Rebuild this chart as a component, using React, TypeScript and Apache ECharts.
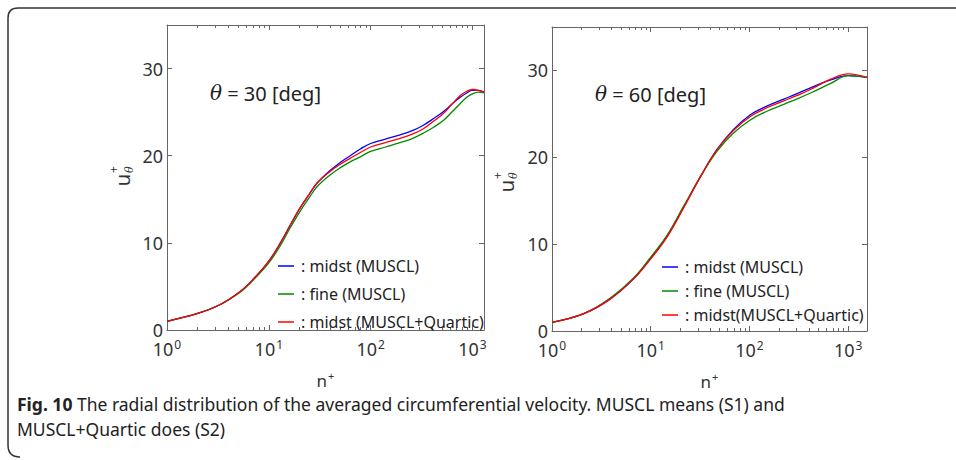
import React, { useEffect, useRef } from "react";
import * as echarts from "echarts";

// ---------- data ----------
const nLeft = [1, 2, 3.3, 5.2, 7, 10, 13, 16, 20, 25, 30, 40, 50, 63, 80, 100, 140, 195, 260, 330, 420, 525, 640, 760, 880, 1000, 1150, 1300];
const blueLeft = [1.0, 1.9, 2.9, 4.4, 5.8, 7.9, 10.0, 11.9, 13.9, 15.6, 16.9, 18.3, 19.2, 20.0, 20.8, 21.4, 21.9, 22.4, 22.9, 23.5, 24.3, 25.1, 26.0, 26.7, 27.2, 27.5, 27.5, 27.3];
const greenLeft = [1.0, 1.9, 2.9, 4.3, 5.7, 7.7, 9.7, 11.6, 13.5, 15.2, 16.5, 17.8, 18.6, 19.3, 19.9, 20.5, 21.0, 21.5, 22.0, 22.6, 23.3, 24.1, 25.1, 26.0, 26.7, 27.1, 27.3, 27.2];
const redLeft = [1.0, 1.9, 2.9, 4.4, 5.8, 7.9, 10.0, 11.9, 13.9, 15.6, 16.9, 18.2, 19.0, 19.7, 20.4, 21.0, 21.5, 22.0, 22.5, 23.1, 24.0, 24.9, 26.0, 26.9, 27.4, 27.6, 27.5, 27.3];

const nRight = [1, 2.1, 3.9, 6.7, 10, 14.6, 21.6, 32, 47, 69, 102, 150, 223, 300, 415, 665, 1000, 1550];
const blueRight = [1.0, 2.0, 3.7, 6.0, 8.4, 10.9, 14.3, 17.8, 20.9, 23.2, 24.9, 25.9, 26.7, 27.3, 28.0, 28.9, 29.4, 29.2];
const greenRight = [1.0, 2.0, 3.8, 6.1, 8.5, 11.0, 14.4, 17.8, 20.7, 22.8, 24.3, 25.3, 26.1, 26.7, 27.4, 28.5, 29.4, 29.2];
const redRight = [1.0, 2.0, 3.7, 6.0, 8.3, 10.8, 14.2, 17.8, 20.9, 23.1, 24.7, 25.7, 26.5, 27.1, 27.8, 29.0, 29.6, 29.2];

const namesLeft = ["midst (MUSCL)", "fine (MUSCL)", "midst (MUSCL+Quartic)"];
const namesRight = ["midst (MUSCL)", "fine (MUSCL)", "midst(MUSCL+Quartic)"];

const xMajorTicks = [1, 10, 100, 1000];
const xMinorTicks = [2, 3, 4, 5, 6, 7, 8, 9, 20, 30, 40, 50, 60, 70, 80, 90, 200, 300, 400, 500, 600, 700, 800, 900];
const yTicks = [0, 10, 20, 30];
const xMaxLeft = 1300;
const xMaxRight = 1550;
const yMax = 35;

const colors = ["#0000ff", "#008a00", "#ff0000"];
const FONT = "Noto Sans";
const AXIS = "#666";
const TXT = "#222";

const framePath = "M 960 8 L 18 8 Q 8 8 8 18 L 8 445 Q 8 457 20 457";
echarts.graphic.registerShape("frameBorder", echarts.graphic.extendPath(framePath, {}));

function xAxes(grid: number, max: number) {
  const lineStyle = { color: AXIS, width: 1 };
  const base = { type: "log", logBase: 10, gridIndex: grid, min: 1, max, splitLine: { show: false } };
  return [
    {
      ...base,
      position: "bottom",
      axisLine: { show: true, lineStyle },
      axisTick: { show: true, inside: true, length: 5, customValues: xMajorTicks, lineStyle },
      axisLabel: {
        customValues: xMajorTicks,
        margin: 8,
        color: "#333",
        fontFamily: FONT,
        formatter: (v: number) => `{b|10}{s|${Math.round(Math.log10(v))}}`,
        rich: {
          b: { fontSize: 18, fontFamily: FONT, color: "#333" },
          s: { fontSize: 12, fontFamily: FONT, color: "#333", padding: [0, 0, 9, 1] },
        },
      },
      name: "{n|n}{s|+}",
      nameLocation: "middle",
      nameGap: 40,
      nameTextStyle: {
        rich: {
          n: { fontSize: 17, fontFamily: FONT, color: "#333" },
          s: { fontSize: 11, fontFamily: FONT, color: "#333", padding: [0, 0, 9, 1] },
        },
      },
    },
    {
      ...base,
      position: "bottom",
      axisLine: { show: false },
      axisTick: { show: true, inside: true, length: 3, customValues: xMinorTicks, lineStyle },
      axisLabel: { show: false },
    },
    {
      ...base,
      position: "top",
      axisLine: { show: true, lineStyle },
      axisTick: { show: true, inside: true, length: 5, customValues: xMajorTicks, lineStyle },
      axisLabel: { show: false },
    },
    {
      ...base,
      position: "top",
      axisLine: { show: false },
      axisTick: { show: true, inside: true, length: 3, customValues: xMinorTicks, lineStyle },
      axisLabel: { show: false },
    },
  ];
}

function yAxes(grid: number) {
  const lineStyle = { color: AXIS, width: 1 };
  const base = { type: "value", gridIndex: grid, min: 0, max: yMax, splitLine: { show: false } };
  return [
    {
      ...base,
      position: "left",
      axisLine: { show: true, lineStyle },
      axisTick: { show: true, inside: true, length: 5, customValues: yTicks, lineStyle },
      axisLabel: { customValues: yTicks, margin: 4, fontSize: 18, lineHeight: 12, fontFamily: FONT, color: "#333" },
    },
    {
      ...base,
      position: "right",
      axisLine: { show: true, lineStyle },
      axisTick: { show: true, inside: true, length: 5, customValues: yTicks, lineStyle },
      axisLabel: { show: false },
    },
  ];
}

function makeSeries(grid: number, n: number[], sets: number[][], names: string[]) {
  return sets.map((vals, i) => ({
    type: "line",
    name: names[i],
    xAxisIndex: grid * 4,
    yAxisIndex: grid * 2,
    data: n.map((x, k) => [x, vals[k]]),
    smooth: 0.4,
    symbol: "none",
    lineStyle: { color: colors[i], width: 1.3 },
    itemStyle: { color: colors[i] },
  }));
}

function yLabel(cx: number, cy: number) {
  return {
    type: "group",
    x: cx,
    y: cy,
    rotation: Math.PI / 2,
    children: [
      { type: "text", x: 0, y: 0, style: { text: "u", fontSize: 20, fontFamily: FONT, fill: "#333", align: "center", verticalAlign: "middle" } },
      { type: "text", x: 7, y: -9, style: { text: "+", fontSize: 12, fontFamily: FONT, fill: "#333", align: "left", verticalAlign: "middle" } },
      { type: "text", x: 7, y: 7, style: { text: "θ", fontSize: 11, fontFamily: "DejaVu Serif", fontStyle: "italic", fill: "#333", align: "left", verticalAlign: "middle" } },
    ],
  };
}

function thetaLabel(x: number, y: number, deg: string) {
  return {
    type: "text",
    x,
    y,
    style: {
      text: `{t|θ} = ${deg} [deg]`,
      fontSize: 20,
      fontFamily: FONT,
      fill: TXT,
      verticalAlign: "middle",
      rich: {
        t: { fontSize: 20, fontFamily: "DejaVu Serif", fontStyle: "italic", fill: TXT },
      },
    },
  };
}

function legend(left: number, top: number, gap: number, names: string[]) {
  return {
    orient: "vertical",
    left,
    top,
    icon: "rect",
    itemWidth: 16,
    itemHeight: 1.5,
    itemGap: gap,
    data: names,
    formatter: (n: string) => ": " + n,
    textStyle: { fontSize: 16, fontFamily: FONT, color: TXT, lineHeight: 16, padding: [0, 0, 0, 2] },
    selectedMode: false,
  };
}

export default function App() {
  const ref = useRef<HTMLDivElement>(null);
  useEffect(() => {
    document.body.style.margin = "0";
    if (!ref.current) return;
    const chart = echarts.init(ref.current, undefined, { renderer: "svg" });
    chart.setOption({
      animation: false,
      backgroundColor: "#fff",
      grid: [
        { left: 167, top: 25, width: 317, height: 305 },
        { left: 552, top: 27, width: 315, height: 304 },
      ],
      xAxis: [...xAxes(0, xMaxLeft), ...xAxes(1, xMaxRight)],
      yAxis: [...yAxes(0), ...yAxes(1)],
      legend: [legend(273, 253, 12, namesLeft), legend(657, 254, 8, namesRight)],
      series: [
        ...makeSeries(0, nLeft, [blueLeft, greenLeft, redLeft], namesLeft),
        ...makeSeries(1, nRight, [blueRight, greenRight, redRight], namesRight),
      ],
      graphic: [
        { type: "frameBorder", x: 0, y: 0, style: { fill: "none", stroke: "#333", lineWidth: 1.5 } },
        thetaLabel(210, 93, "30"),
        thetaLabel(595, 94, "60"),
        yLabel(122, 180),
        yLabel(506, 186),
        {
          type: "text",
          x: 17,
          y: 404,
          style: {
            text: "{b|Fig. 10} The radial distribution of the averaged circumferential velocity. MUSCL means (S1) and",
            fontSize: 17.5,
            fontFamily: FONT,
            fill: TXT,
            verticalAlign: "middle",
            rich: { b: { fontSize: 17.5, fontFamily: FONT, fontWeight: "bold", fill: TXT } },
          },
        },
        {
          type: "text",
          x: 17,
          y: 429,
          style: { text: "MUSCL+Quartic does (S2)", fontSize: 17.5, fontFamily: FONT, fill: TXT, verticalAlign: "middle" },
        },
      ],
    });
    return () => chart.dispose();
  }, []);
  return <div ref={ref} style={{ width: 956, height: 460 }} />;
}
